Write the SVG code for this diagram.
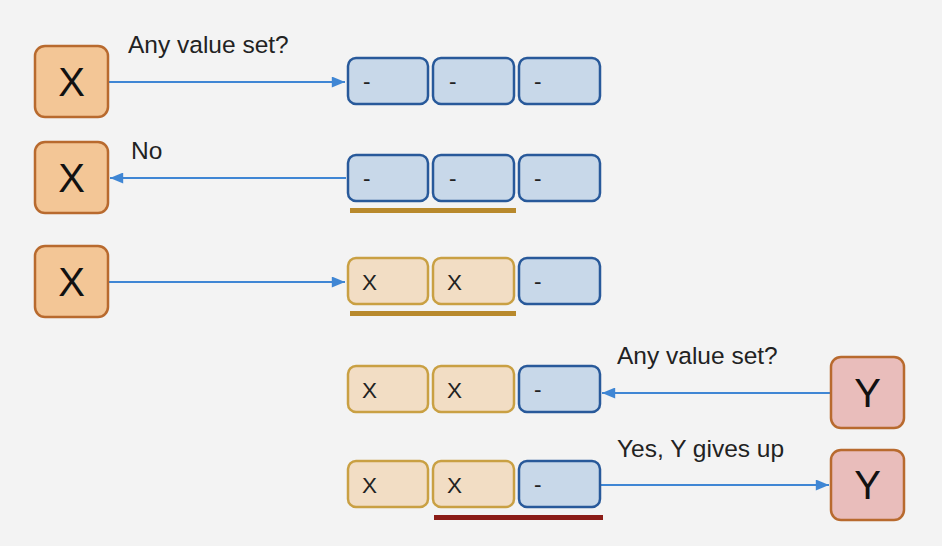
<svg xmlns="http://www.w3.org/2000/svg" width="942" height="546" viewBox="0 0 942 546">
<defs>
<style>
.big{fill:#f3c696;stroke:#b86a2e;stroke-width:2.5}
.ybig{fill:#e9bdbb;stroke:#b86a2e;stroke-width:2.5}
.blue{fill:#c8d8e9;stroke:#28599a;stroke-width:2.5}
.tan{fill:#f2ddc4;stroke:#c9a043;stroke-width:2.5}
.bl{font-family:"Liberation Sans",Arial,sans-serif;font-size:40px;fill:#111;text-anchor:middle}
.ct{font-family:"Liberation Sans",Arial,sans-serif;font-size:22.5px;fill:#222}
.lb{font-family:"Liberation Sans",Arial,sans-serif;font-size:24.5px;fill:#222}
.ar{stroke:#3f86d4;stroke-width:2;fill:none}
</style>
<marker id="ah2" viewBox="0 0 12 10" refX="12" refY="5" markerWidth="14" markerHeight="11" orient="auto" markerUnits="userSpaceOnUse">
<path d="M0,0 L12,5 L0,10 z" fill="#3f86d4"/>
</marker>
</defs>
<rect width="942" height="546" fill="#f3f3f3"/>

<g id="connectors">
<line class="ar" x1="109" y1="82" x2="345" y2="82" marker-end="url(#ah2)"/>
<line class="ar" x1="346" y1="178" x2="110" y2="178" marker-end="url(#ah2)"/>
<line class="ar" x1="109" y1="282" x2="345" y2="282" marker-end="url(#ah2)"/>
<line class="ar" x1="830" y1="393" x2="602" y2="393" marker-end="url(#ah2)"/>
<line class="ar" x1="601" y1="485" x2="829" y2="485" marker-end="url(#ah2)"/>
</g>

<g id="labels">
<text class="lb" x="128" y="53">Any value set?</text>
<text class="lb" x="131" y="159">No</text>
<text class="lb" x="617" y="364">Any value set?</text>
<text class="lb" x="617" y="457">Yes, Y gives up</text>
</g>

<g id="x1"><rect class="big" x="35" y="46" width="73" height="71" rx="10"/><text class="bl" x="71.5" y="96">X</text></g>
<g id="x2"><rect class="big" x="35" y="142" width="73" height="71" rx="10"/><text class="bl" x="71.5" y="192">X</text></g>
<g id="x3"><rect class="big" x="35" y="246" width="73" height="71" rx="10"/><text class="bl" x="71.5" y="296">X</text></g>
<g id="y1"><rect class="ybig" x="831" y="357" width="73" height="71" rx="10"/><text class="bl" x="867.5" y="407">Y</text></g>
<g id="y2"><rect class="ybig" x="831" y="450" width="73" height="70" rx="10"/><text class="bl" x="867.5" y="499">Y</text></g>

<g id="row1">
<rect class="blue" x="348" y="58" width="80" height="46" rx="8"/><text class="ct" x="363" y="89">-</text>
<rect class="blue" x="433" y="58" width="81" height="46" rx="8"/><text class="ct" x="449" y="89">-</text>
<rect class="blue" x="519" y="58" width="81" height="46" rx="8"/><text class="ct" x="534" y="89">-</text>
</g>
<g id="row2">
<rect class="blue" x="348" y="155" width="80" height="46" rx="8"/><text class="ct" x="363" y="186">-</text>
<rect class="blue" x="433" y="155" width="81" height="46" rx="8"/><text class="ct" x="449" y="186">-</text>
<rect class="blue" x="519" y="155" width="81" height="46" rx="8"/><text class="ct" x="534" y="186">-</text>
<rect x="350" y="208" width="166" height="5" fill="#b8892c"/>
</g>
<g id="row3">
<rect class="tan" x="348" y="258" width="80" height="46" rx="8"/><text class="ct" x="362" y="290">X</text>
<rect class="tan" x="433" y="258" width="81" height="46" rx="8"/><text class="ct" x="447" y="290">X</text>
<rect class="blue" x="519" y="258" width="81" height="46" rx="8"/><text class="ct" x="534" y="289">-</text>
<rect x="350" y="311" width="166" height="5" fill="#b8892c"/>
</g>
<g id="row4">
<rect class="tan" x="348" y="366" width="80" height="46" rx="8"/><text class="ct" x="362" y="398">X</text>
<rect class="tan" x="433" y="366" width="81" height="46" rx="8"/><text class="ct" x="447" y="398">X</text>
<rect class="blue" x="519" y="366" width="81" height="46" rx="8"/><text class="ct" x="534" y="397">-</text>
</g>
<g id="row5">
<rect class="tan" x="348" y="461" width="80" height="46" rx="8"/><text class="ct" x="362" y="493">X</text>
<rect class="tan" x="433" y="461" width="81" height="46" rx="8"/><text class="ct" x="447" y="493">X</text>
<rect class="blue" x="519" y="461" width="81" height="46" rx="8"/><text class="ct" x="534" y="492">-</text>
<rect x="434" y="515" width="169" height="5" fill="#8b1c17"/>
</g>
</svg>
